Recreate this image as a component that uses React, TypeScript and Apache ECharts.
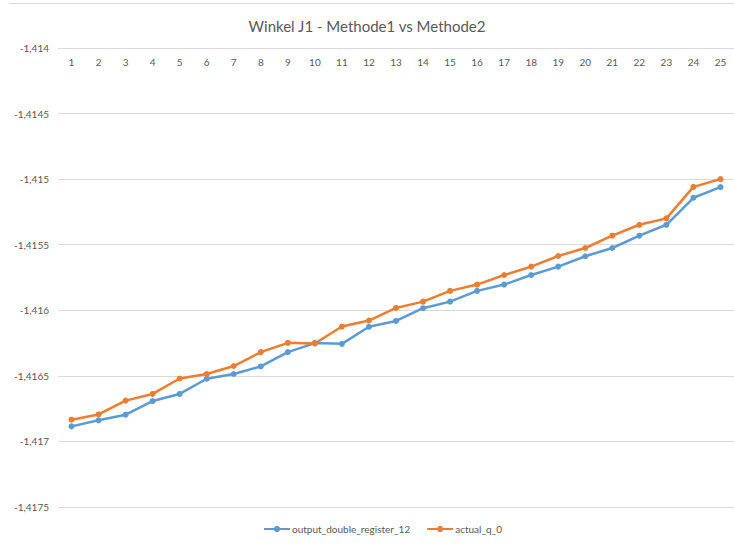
import React, { useEffect, useRef } from "react";
import * as echarts from "echarts";

const categories = ["1","2","3","4","5","6","7","8","9","10","11","12","13","14","15","16","17","18","19","20","21","22","23","24","25"];

const outputDoubleRegister12 = [
  -1.416885, -1.416839, -1.416796, -1.416692, -1.416638, -1.416522, -1.416486, -1.416428,
  -1.416319, -1.41625, -1.416256, -1.416126, -1.416081, -1.415984, -1.415934, -1.415852,
  -1.415804, -1.415731, -1.415667, -1.415588, -1.415525, -1.415431, -1.415348, -1.415142,
  -1.415061,
];

const actualQ0 = [
  -1.416834, -1.416794, -1.416689, -1.416638, -1.41652, -1.416486, -1.416425, -1.416319,
  -1.416248, -1.416253, -1.416124, -1.416078, -1.415982, -1.415934, -1.415852, -1.415804,
  -1.415731, -1.415667, -1.415586, -1.415525, -1.415431, -1.415348, -1.415299, -1.415059,
  -1.415,
];

const FONT = "Lato, 'Open Sans', sans-serif";

export default function App() {
  const ref = useRef<HTMLDivElement>(null);
  useEffect(() => {
    if (!ref.current) return;
    const chart = echarts.init(ref.current, undefined, { renderer: "svg" });
    chart.setOption({
      animation: false,
      backgroundColor: "#ffffff",
      textStyle: { fontFamily: FONT },
      title: {
        text: "Winkel J1 - Methode1 vs Methode2",
        left: "center",
        top: 13,
        textStyle: { fontFamily: FONT, fontSize: 15, fontWeight: "normal", color: "#595959" },
      },
      graphic: [
        {
          type: "line",
          shape: { x1: 9, y1: 3.5, x2: 734, y2: 3.5 },
          style: { stroke: "#d9d9d9", lineWidth: 1 },
          silent: true,
        },
      ],
      legend: {
        bottom: 7,
        left: 258,
        itemWidth: 26,
        itemHeight: 8,
        itemGap: 16,
        textStyle: { fontFamily: FONT, fontSize: 10, color: "#595959", padding: [0, 0, 0, -3] },
        data: ["output_double_register_12", "actual_q_0"],
      },
      grid: { left: 58, right: 0, top: 48, bottom: 39, containLabel: false },
      xAxis: {
        type: "category",
        position: "top",
        data: categories,
        boundaryGap: true,
        axisLine: { show: false },
        axisTick: { show: false },
        axisLabel: { inside: true, margin: 9, fontSize: 10, color: "#595959", fontFamily: FONT, interval: 0 },
        splitLine: { show: false },
      },
      yAxis: {
        type: "value",
        min: -1.4175,
        max: -1.414,
        interval: 0.0005,
        axisLine: { show: false },
        axisTick: { show: false },
        splitLine: { show: true, lineStyle: { color: "#d9d9d9", width: 1 } },
        axisLabel: {
          margin: 9,
          fontSize: 10,
          color: "#595959",
          fontFamily: FONT,
          formatter: (v: number) => {
            const s = parseFloat(v.toFixed(4)).toString();
            return s.replace(".", ",");
          },
        },
      },
      series: [
        {
          name: "output_double_register_12",
          type: "line",
          data: outputDoubleRegister12,
          color: "#5B9BD5",
          symbol: "circle",
          symbolSize: 6,
          lineStyle: { width: 2.5, color: "#5B9BD5" },
          itemStyle: { color: "#5B9BD5" },
        },
        {
          name: "actual_q_0",
          type: "line",
          data: actualQ0,
          color: "#ED7D31",
          symbol: "circle",
          symbolSize: 6,
          lineStyle: { width: 2.5, color: "#ED7D31" },
          itemStyle: { color: "#ED7D31" },
        },
      ],
    });
    return () => chart.dispose();
  }, []);
  return <div ref={ref} style={{ width: 734, height: 546, position: "absolute", left: 0, top: 0 }} />;
}
